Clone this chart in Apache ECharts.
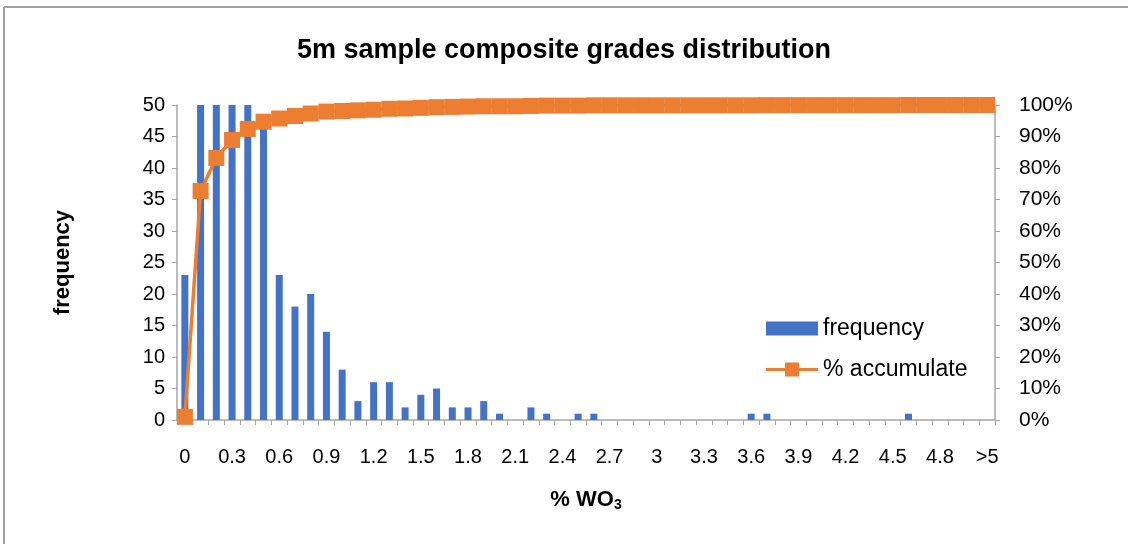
<!DOCTYPE html>
<html>
<head>
<meta charset="utf-8">
<script src="https://cdn.jsdelivr.net/npm/echarts@6/dist/echarts.min.js"></script>
<style>
html,body{margin:0;padding:0;background:#fff;}
#c{width:1128px;height:544px;}
</style>
</head>
<body>
<div id="c"></div>
<script>
const categories = ['0','0.1','0.2','0.3','0.4','0.5','0.6','0.7','0.8','0.9','1','1.1','1.2','1.3','1.4','1.5','1.6','1.7','1.8','1.9','2','2.1','2.2','2.3','2.4','2.5','2.6','2.7','2.8','2.9','3','3.1','3.2','3.3','3.4','3.5','3.6','3.7','3.8','3.9','4','4.1','4.2','4.3','4.4','4.5','4.6','4.7','4.8','4.9','5','>5'];
const frequency = [23,1623,237,129,79,47,23,18,20,14,8,3,6,6,2,4,5,2,2,3,1,0,2,1,0,1,1,0,0,0,0,0,0,0,0,0,1,1,0,0,0,0,0,0,0,0,1,0,0,0,0,0];
const accumulate = [1.0,72.7,83.2,88.9,92.4,94.7,95.7,96.5,97.3,97.9,98.1,98.3,98.5,98.8,98.9,99.1,99.3,99.4,99.5,99.6,99.6,99.6,99.7,99.8,99.8,99.8,99.9,99.9,99.9,99.9,99.9,99.9,99.9,99.9,99.9,99.9,99.9,99.96,99.96,99.96,99.96,99.96,99.96,99.96,99.96,99.96,100,100,100,100,100,100];
const leftTicks = {min:0, max:50, interval:5};
const rightTicks = {min:0, max:100, interval:10};

const FONT = '"Liberation Sans", Arial, sans-serif';
const chart = echarts.init(document.getElementById('c'), null, {renderer:'canvas'});
const axisGray = '#a6a6a6';
chart.setOption({
  animation:false,
  backgroundColor:'#ffffff',
  textStyle:{fontFamily:FONT},
  title:{
    text:'5m sample composite grades distribution',
    left:'center', top:32,
    textStyle:{fontFamily:FONT, fontSize:27, fontWeight:'bold', color:'#000'}
  },
  graphic:[
    {type:'line', shape:{x1:4, y1:7, x2:1128, y2:7}, style:{stroke:'#a0a0a0', lineWidth:2}},
    {type:'line', shape:{x1:4, y1:7, x2:4, y2:544}, style:{stroke:'#a0a0a0', lineWidth:2}}
  ],
  legend:{
    orient:'vertical', left:766, top:317, padding:0,
    itemWidth:52, itemHeight:14, itemGap:18,
    textStyle:{fontFamily:FONT, fontSize:23, color:'#000', padding:[0,0,0,0]},
    data:[
      {name:'frequency', icon:'rect'},
      {name:'% accumulate', icon:'path://M0,5.5H19V0H33V5.5H52V8.5H33V14H19V8.5H0Z'}
    ]
  },
  grid:{left:177, right:133, top:105, bottom:124, containLabel:false},
  xAxis:{
    type:'category', data:categories, boundaryGap:true,
    axisLine:{lineStyle:{color:axisGray, width:1.5}},
    axisTick:{show:true, interval:0, length:5, lineStyle:{color:axisGray}},
    axisLabel:{interval:2, margin:27, fontSize:20, color:'#000', fontFamily:FONT},
    name:'{a|% WO}{s|3}', nameLocation:'middle', nameGap:68,
    nameTextStyle:{
      rich:{
        a:{fontSize:22, fontWeight:'bold', color:'#000', fontFamily:FONT},
        s:{fontSize:14, fontWeight:'bold', color:'#000', fontFamily:FONT, padding:[10,0,0,0]}
      }
    }
  },
  yAxis:[
    {
      type:'value', min:leftTicks.min, max:leftTicks.max, interval:leftTicks.interval,
      axisLine:{show:true, lineStyle:{color:axisGray, width:1.5}},
      axisTick:{show:true, length:5, lineStyle:{color:axisGray}},
      splitLine:{show:false},
      axisLabel:{fontSize:20, color:'#000', margin:12, fontFamily:FONT},
      name:'frequency', nameLocation:'middle', nameGap:103, nameRotate:90,
      nameTextStyle:{fontSize:22, fontWeight:'bold', color:'#000', fontFamily:FONT}
    },
    {
      type:'value', min:rightTicks.min, max:rightTicks.max, interval:rightTicks.interval,
      position:'right',
      axisLine:{show:true, lineStyle:{color:axisGray, width:1.5}},
      axisTick:{show:true, length:5, lineStyle:{color:axisGray}},
      splitLine:{show:false},
      axisLabel:{fontSize:21, color:'#000', margin:24, formatter:'{value}%', fontFamily:FONT}
    }
  ],
  series:[
    {
      name:'frequency', type:'bar', data:frequency, yAxisIndex:0,
      barWidth:7, clip:true,
      itemStyle:{color:'#4472c4'}
    },
    {
      name:'% accumulate', type:'line', data:accumulate, yAxisIndex:1,
      symbol:'rect', symbolSize:16, showAllSymbol:true,
      lineStyle:{color:'#ed7d31', width:3.5},
      itemStyle:{color:'#ed7d31'},
      z:5
    }
  ]
});
</script>
</body>
</html>
